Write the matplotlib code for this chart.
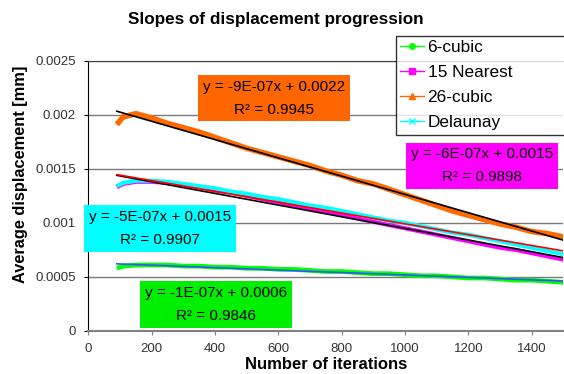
"""Slopes of displacement progression, with linear trend lines."""

import matplotlib

matplotlib.use("Agg")
import matplotlib.pyplot as plt
import numpy as np
from matplotlib.lines import Line2D

plt.rcParams["font.family"] = ["Liberation Sans", "DejaVu Sans"]

# Iteration numbers of the sampled points
iterations = [90, 110, 150, 200, 250, 300, 350, 400, 450, 500, 550, 600, 650,
              700, 750, 800, 850, 900, 950, 1000, 1050, 1100, 1150, 1200,
              1250, 1300, 1350, 1400, 1450, 1500]

cubic6 = [0.00058, 0.00060, 0.00061, 0.00061, 0.00061, 0.00060, 0.00060,
          0.00059, 0.00059, 0.00058, 0.00058, 0.00057, 0.00057, 0.00056,
          0.00055, 0.00055, 0.00054, 0.00053, 0.00053, 0.00052, 0.00051,
          0.00051, 0.00050, 0.00049, 0.00049, 0.00048, 0.00047, 0.00047,
          0.00046, 0.00045]
nearest15 = [0.00133, 0.00136, 0.00138, 0.00138, 0.00137, 0.00135, 0.00133,
             0.00130, 0.00128, 0.00125, 0.00122, 0.00119, 0.00116, 0.00113,
             0.00110, 0.00107, 0.00104, 0.00101, 0.00098, 0.00095, 0.00092,
             0.00089, 0.00086, 0.00083, 0.00080, 0.00077, 0.00075, 0.00072,
             0.00069, 0.00066]
cubic26 = [0.00191, 0.00198, 0.00201, 0.00197, 0.00192, 0.00188, 0.00184,
           0.00179, 0.00174, 0.00169, 0.00165, 0.00161, 0.00157, 0.00153,
           0.00148, 0.00144, 0.00139, 0.00136, 0.00131, 0.00126, 0.00121,
           0.00116, 0.00111, 0.00107, 0.00103, 0.00099, 0.00096, 0.00092,
           0.00090, 0.00087]
delaunay = [0.00134, 0.00137, 0.00139, 0.00139, 0.00138, 0.00136, 0.00134,
            0.00132, 0.00129, 0.00127, 0.00124, 0.00122, 0.00119, 0.00116,
            0.00114, 0.00111, 0.00108, 0.00105, 0.00102, 0.00100, 0.00097,
            0.00094, 0.00091, 0.00089, 0.00086, 0.00083, 0.00080, 0.00077,
            0.00074, 0.00071]

series_names = ["6-cubic", "15 Nearest", "26-cubic", "Delaunay"]
equations = ["y = -1E-07x + 0.0006\nR² = 0.9846",
             "y = -6E-07x + 0.0015\nR² = 0.9898",
             "y = -9E-07x + 0.0022\nR² = 0.9945",
             "y = -5E-07x + 0.0015\nR² = 0.9907"]

x_ticks = [0, 200, 400, 600, 800, 1000, 1200, 1400]
y_ticks = [0, 0.0005, 0.001, 0.0015, 0.002, 0.0025]
y_tick_labels = ["0", "0.0005", "0.001", "0.0015", "0.002", "0.0025"]

# Styling
LINE_COLORS = ["#00FF00", "#FF00FF", "#FF6A00", "#00FFFF"]
BOX_COLORS = ["#00EE00", "#FF00FF", "#FF6600", "#00FFFF"]
TREND_COLORS = ["#3355FF", "#000000", "#000000", "#FF0000"]
MARKERS = ["o", "s", "^", "x"]
LINE_WIDTHS = [3.4, 3.0, 4.0, 3.0]
# label centres in data coordinates
LABEL_POS = [(403, 0.000244), (1243, 0.001528), (586, 0.002153), (226, 0.000949)]

fig = plt.figure(figsize=(5.64, 3.74), dpi=100)
ax = fig.add_axes([0.1566, 0.115, 0.8425, 0.7227])

all_series = [cubic6, nearest15, cubic26, delaunay]
x = np.array(iterations)

for values, color, lw in zip(all_series, LINE_COLORS, LINE_WIDTHS):
    ax.plot(x, values, color=color, linewidth=lw, solid_capstyle="butt", zorder=3)

# Linear trend lines over the data range
for values, color in zip(all_series, TREND_COLORS):
    slope, intercept = np.polyfit(x, values, 1)
    ends = np.array([x[0], x[-1]])
    ax.plot(ends, slope * ends + intercept, color=color, linewidth=1.2, zorder=4)

for text, (lx, ly), box in zip(equations, LABEL_POS, BOX_COLORS):
    ax.text(lx, ly, text, ha="center", va="center", fontsize=11,
            linespacing=1.85, zorder=6, clip_on=False,
            bbox={"boxstyle": "square,pad=0.3", "facecolor": box, "edgecolor": "none"})

ax.set_xlim(0, 1500)
ax.set_ylim(0, 0.0025)
ax.set_xticks(x_ticks)
ax.set_xticklabels([str(t) for t in x_ticks])
ax.set_yticks(y_ticks)
ax.set_yticklabels(y_tick_labels)
ax.tick_params(axis="both", labelsize=9.5, labelcolor="#333333", length=3)
ax.tick_params(axis="x", colors="#808080", labelcolor="#333333", pad=6)
ax.tick_params(axis="y", pad=6)

ax.grid(axis="y", color="#7a7a7a", linewidth=1.0)
ax.set_axisbelow(True)
ax.spines["right"].set_visible(False)
ax.spines["top"].set_color("#404040")
ax.spines["left"].set_color("#000000")
ax.spines["bottom"].set_color("#808080")
ax.spines["bottom"].set_linewidth(1.5)

ax.set_xlabel("Number of iterations", fontsize=12, fontweight="bold", labelpad=1)
ax.set_ylabel("Average displacement [mm]", fontsize=11.8, fontweight="bold")
ax.yaxis.set_label_coords(-0.127, 0.581)
fig.text(0.489, 0.949, "Slopes of displacement progression", ha="center",
         va="center", fontsize=12.3, fontweight="bold")

handles = [Line2D([], [], color=c, marker=m, markersize=4, linewidth=1)
           for c, m in zip(LINE_COLORS, MARKERS)]
legend = fig.legend(handles, series_names, loc="upper left",
                    bbox_to_anchor=(395.7 / 564, 1 - 35.7 / 374, 0.35, 0.0),
                    mode="expand", fontsize=12.4, frameon=True, fancybox=False,
                    borderpad=0.25, labelspacing=0.58, handlelength=1.4,
                    handletextpad=0.2, borderaxespad=0)
legend.get_frame().set_edgecolor("#000000")
legend.get_frame().set_linewidth(1.0)
legend.set_zorder(10)

fig.savefig("out.png", dpi=100)
